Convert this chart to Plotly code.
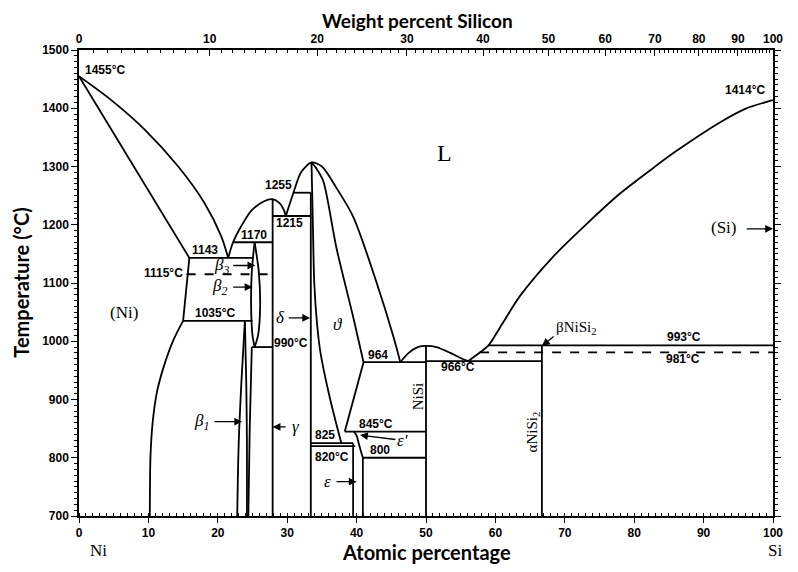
import plotly.graph_objects as go

# compositions in at.% Si, temperatures in deg C
liq_ni_x = [0, 4.65, 9.5, 14.3, 18.1, 20.5, 21.5]
liq_ni_t = [1455, 1414, 1363, 1300, 1237, 1180, 1143]
sol_ni_x = [0, 15.9, 15.0]
sol_ni_t = [1455, 1143, 1035]
solvus_ni_x = [15.0, 13.6, 12.2, 11.2, 10.6, 10.3, 10.2]
solvus_ni_t = [1035, 1002, 956, 911, 859, 802, 700]
liq_gam_x = [21.5, 22.2, 23.5, 24.9, 26.6, 27.9, 28.9, 29.5, 29.8]
liq_gam_t = [1143, 1170, 1200, 1225, 1240, 1244, 1237, 1226, 1215]
liq_th_x = [29.8, 30.9, 32.0, 33.5, 35.0, 37.0, 39.5, 42.9, 45.3, 46.3]
liq_th_t = [1215, 1255, 1290, 1307, 1300, 1265, 1214, 1100, 1008, 964]
theta_l_x = [33.5, 33.7, 33.9, 34.3, 34.8, 36.2, 37.8]
theta_l_t = [1307, 1200, 1100, 1030, 980, 900, 825]
theta_r_x = [33.5, 34.3, 35.2, 37.1, 39.5, 41.0]
theta_r_t = [1307, 1295, 1275, 1160, 1042, 964]
theta_low_x = [41.0, 38.3]
theta_low_t = [964, 845]
lens_l_x = [25.3, 24.9, 24.8, 25.0, 25.3]
lens_r_x = [25.3, 25.9, 26.1, 25.8, 25.3]
lens_t = [1170, 1120, 1060, 1010, 990]
b1_l_x = [23.9, 23.4, 23.0, 22.8]
b1_r_x = [23.9, 24.1, 24.2, 24.2]
b1_t = [1035, 930, 820, 700]
b_low_x = [24.9, 24.6, 24.4]
b_low_t = [990, 850, 700]
eps_p_x = [39.6, 40.0, 40.3, 40.6, 40.9]
eps_p_t = [845, 838, 825, 812, 800]
dome_x = [46.3, 47.5, 48.8, 50, 51.5, 53.5, 55.2, 56.1]
dome_t = [964, 980, 990, 992, 990, 980, 970, 966]
liq_si_x = [56.1, 57.8, 59.0, 61.0, 63.5, 68.3, 73.2, 78.0, 82.8, 86.0, 92.4, 96.0, 100]
liq_si_t = [966, 981, 993, 1030, 1077, 1145, 1202, 1254, 1298, 1326, 1376, 1399, 1414]

# horizontal invariant lines
iso_x0 = [15.9, 15.0, 22.2, 27.9, 30.9, 24.9, 33.4, 33.4, 38.3, 40.9, 41.0, 50, 59.0]
iso_x1 = [25.0, 25.0, 27.9, 33.4, 33.4, 27.9, 39.5, 39.8, 50, 50, 50, 66.7, 100]
iso_t = [1143, 1035, 1170, 1215, 1255, 990, 825, 820, 845, 800, 964, 966, 993]
dash_x0 = [15.5, 57.8]
dash_x1 = [27.9, 100]
dash_t = [1115, 981]

# vertical compound lines
vert_x = [27.9, 33.4, 39.5, 40.9, 50, 66.7]
vert_top = [1244, 1255, 825, 800, 992, 993]

wt_ticks = list(range(0, 101, 10))


def wt_to_at(w):
    a = w / 28.086
    b = (100 - w) / 58.693
    return 100 * a / (a + b)


fig = go.Figure()


def curve(xs, ts, shape="linear", dash="solid"):
    fig.add_trace(go.Scatter(x=xs, y=ts, mode="lines",
                             line=dict(color="black", width=1.8, shape=shape, dash=dash, smoothing=0.8),
                             hoverinfo="skip", showlegend=False))


curve(liq_ni_x, liq_ni_t, "spline")
curve(sol_ni_x, sol_ni_t)
curve(solvus_ni_x, solvus_ni_t, "spline")
curve(liq_gam_x, liq_gam_t, "spline")
curve(liq_th_x, liq_th_t, "spline")
curve(theta_l_x, theta_l_t, "spline")
curve(theta_r_x, theta_r_t, "spline")
curve(theta_low_x, theta_low_t)
curve(lens_l_x, lens_t, "spline")
curve(lens_r_x, lens_t, "spline")
curve(b1_l_x, b1_t, "spline")
curve(b1_r_x, b1_t, "spline")
curve(b_low_x, b_low_t, "spline")
curve(eps_p_x, eps_p_t, "spline")
curve(dome_x, dome_t, "spline")
curve(liq_si_x, liq_si_t, "spline")

for x0, x1, t in zip(iso_x0, iso_x1, iso_t):
    curve([x0, x1], [t, t])
for x0, x1, t in zip(dash_x0, dash_x1, dash_t):
    curve([x0, x1], [t, t], dash="dash")
for x, t in zip(vert_x, vert_top):
    curve([x, x], [700, t])

# dummy trace so the top axis is drawn
fig.add_trace(go.Scatter(x=[0, 100], y=[700, 700], xaxis="x2", mode="lines",
                         line=dict(width=0), hoverinfo="skip", showlegend=False))

num = dict(family="Liberation Sans", size=12, color="black", weight="bold")
ser = dict(family="Liberation Serif", size=17, color="black")
ital = dict(family="Liberation Serif", size=17, color="black", style="italic")

labels = [
    (3.8, 1466, "1455°C", num), (96, 1431, "1414°C", num),
    (18.2, 1157, "1143", num), (12.2, 1117, "1115°C", num),
    (19.6, 1049, "1035°C", num), (25.2, 1183, "1170", num),
    (28.8, 1268, "1255", num), (30.4, 1203, "1215", num),
    (30.5, 997, "990°C", num), (35.4, 839, "825", num),
    (36.5, 801, "820°C", num), (42.8, 858, "845°C", num),
    (43.4, 814, "800", num), (43.1, 977, "964", num),
    (54.6, 955, "966°C", num), (87.2, 1008, "993°C", num),
    (87.0, 970, "981°C", num),
    (52.7, 1323, "L", dict(family="Liberation Serif", size=24, color="black")),
    (6.5, 1050, "(Ni)", ser), (92.9, 1195, "(Si)", ser),
    (20.5, 1130, "β<sub>3</sub>", ital), (20.2, 1093, "β<sub>2</sub>", ital),
    (17.7, 862, "β<sub>1</sub>", ital), (29.1, 1040, "δ", ital),
    (31.2, 853, "γ", ital), (37.3, 1028, "ϑ", ital),
    (35.8, 759, "ε", ital), (46.6, 829, "ε'", ital),
    (71.6, 1023, "βNiSi<sub>2</sub>", dict(family="Liberation Serif", size=15, color="black")),
]
for x, y, t, f in labels:
    fig.add_annotation(x=x, y=y, text=t, showarrow=False, font=f)

fig.add_annotation(x=48.8, y=905, text="NiSi", textangle=-90, showarrow=False,
                   font=dict(family="Liberation Serif", size=15, color="black"))
fig.add_annotation(x=65.4, y=845, text="αNiSi<sub>2</sub>", textangle=-90, showarrow=False,
                   font=dict(family="Liberation Serif", size=15, color="black"))

# arrows: (head x, head T, tail x, tail T)
arrows = [(25.4, 1130, 22.0, 1130), (25.0, 1093, 22.0, 1093),
          (33.3, 1040, 30.0, 1040), (23.5, 862, 19.3, 862),
          (27.9, 853, 30.0, 853), (40.0, 759, 36.9, 759),
          (40.5, 839, 45.8, 831), (66.7, 992, 68.6, 1010),
          (100, 1193, 96.0, 1193)]
for hx, hy, tx, ty in arrows:
    fig.add_annotation(x=hx, y=hy, ax=tx, ay=ty, axref="x", ayref="y", text="",
                       showarrow=True, arrowhead=2, arrowsize=1.2, arrowwidth=1.3,
                       arrowcolor="black")

title_font = dict(family="Lato", size=20, color="black", weight="bold")
fig.add_annotation(xref="paper", yref="paper", x=0.488, y=1.064, yanchor="middle",
                   text="Weight percent Silicon", showarrow=False,
                   font=dict(family="Lato", size=19, color="black", weight="bold"))
fig.add_annotation(xref="paper", yref="paper", x=0.5, y=-0.077, yanchor="middle",
                   text="Atomic percentage", showarrow=False, font=title_font)
fig.add_annotation(xref="paper", yref="paper", x=-0.084, y=0.5, xanchor="center",
                   yanchor="middle", text="Temperature (°C)", textangle=-90,
                   showarrow=False, font=title_font)
fig.add_annotation(xref="paper", yref="paper", x=0.013, y=-0.073, yanchor="middle",
                   text="Ni", showarrow=False, font=ser)
fig.add_annotation(xref="paper", yref="paper", x=1.016, y=-0.073, yanchor="middle",
                   text="Si", showarrow=False, font=ser)

tick_font = dict(family="Liberation Sans", size=12, color="black", weight="bold")
# page body has an 8px margin, so the figure is 8px smaller each way
fig.update_layout(
    width=790, height=564,
    margin=dict(l=71, r=25, t=42, b=56),
    paper_bgcolor="white", plot_bgcolor="white",
    xaxis=dict(range=[0, 100], tickvals=list(range(0, 101, 10)), showgrid=False,
               zeroline=False, showline=True, linecolor="black", linewidth=1.5,
               ticks="outside", ticklen=5, tickcolor="black", tickfont=tick_font,
               minor=dict(dtick=1, ticks="inside", ticklen=3, tickcolor="black")),
    xaxis2=dict(range=[0, 100], overlaying="x", side="top",
                tickvals=[wt_to_at(w) for w in wt_ticks], ticktext=[str(w) for w in wt_ticks],
                showgrid=False, zeroline=False, showline=True, linecolor="black", linewidth=1.5,
                ticks="inside", ticklen=6, tickcolor="black", tickfont=tick_font,
                minor=dict(tickvals=[wt_to_at(w) for w in range(1, 100)], ticks="inside",
                           ticklen=3, tickcolor="black")),
    yaxis=dict(range=[700, 1500], dtick=100, showgrid=False, zeroline=False,
               showline=True, linecolor="black", linewidth=1.5, mirror="ticks",
               ticks="outside", ticklen=6, tickcolor="black", tickfont=tick_font,
               minor=dict(dtick=10, ticks="outside", ticklen=3, tickcolor="black")),
)

fig.write_html("out.html")
